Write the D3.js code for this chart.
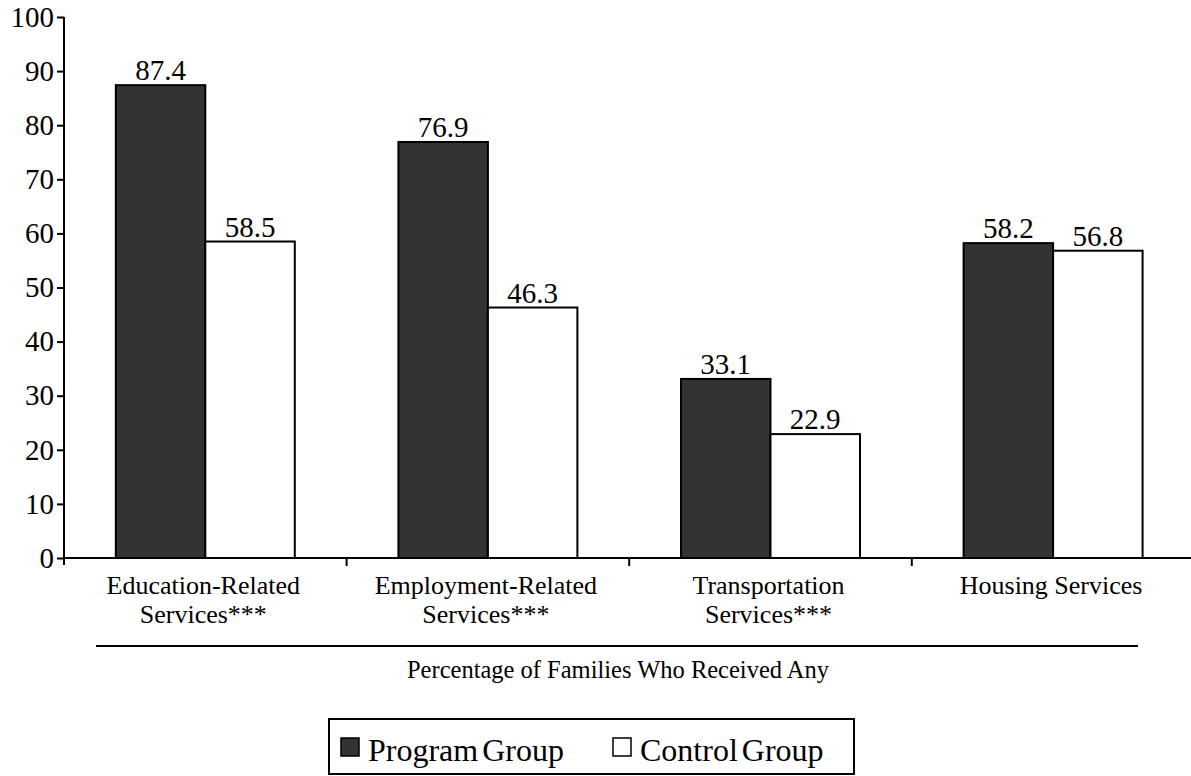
<!DOCTYPE html>
<html>
<head>
<meta charset="utf-8">
<script src="https://cdn.jsdelivr.net/npm/d3@7"></script>
<style>
  html, body { margin: 0; padding: 0; background: #fff; }
  svg { display: block; font-family: "Liberation Serif", "Times New Roman", serif; }
</style>
</head>
<body>
<svg id="chart" width="1191" height="776"></svg>
<script>
const categories = [
  ["Education-Related", "Services***"],
  ["Employment-Related", "Services***"],
  ["Transportation", "Services***"],
  ["Housing Services"]
];
const categoryKeys = ["Education", "Employment", "Transportation", "Housing"];
const seriesNames = ["Program Group", "Control Group"];
const programValues = [87.4, 76.9, 33.1, 58.2];
const controlValues = [58.5, 46.3, 22.9, 56.8];
const yTicks = [0, 10, 20, 30, 40, 50, 60, 70, 80, 90, 100];
const axisTitle = "Percentage of Families Who Received Any";
const seriesColors = ["#333333", "#ffffff"];

const svg = d3.select("#chart");

const x0 = d3.scaleBand().domain(categoryKeys).range([64, 1194.4]).paddingInner(0).paddingOuter(0);
const x1 = d3.scaleBand().domain(seriesNames).range([0, x0.bandwidth()]).paddingInner(0).paddingOuter(0.579);
const y = d3.scaleLinear().domain([0, 100]).range([558, 17]);

const data = categoryKeys.map((k, i) => ({ key: k, values: [programValues[i], controlValues[i]] }));

// bars
const groups = svg.append("g").selectAll("g").data(data).join("g")
  .attr("transform", d => `translate(${x0(d.key)},0)`);

groups.selectAll("rect").data(d => d.values.map((v, j) => ({ s: seriesNames[j], v, j })))
  .join("rect")
  .attr("x", d => x1(d.s))
  .attr("y", d => y(d.v))
  .attr("width", x1.bandwidth())
  .attr("height", d => y(0) - y(d.v))
  .attr("fill", d => seriesColors[d.j])
  .attr("stroke", "#000")
  .attr("stroke-width", 2);

groups.selectAll("text.val").data(d => d.values.map((v, j) => ({ s: seriesNames[j], v, j })))
  .join("text")
  .attr("class", "val")
  .attr("x", d => x1(d.s) + x1.bandwidth() / 2)
  .attr("y", d => y(d.v) - 5)
  .attr("text-anchor", "middle")
  .attr("font-size", 29)
  .attr("fill", "#000")
  .text(d => d.v.toFixed(1));

// y axis
const yAxis = svg.append("g")
  .attr("transform", "translate(64,0)")
  .call(d3.axisLeft(y).tickValues(yTicks).tickSize(7).tickPadding(3).tickSizeOuter(0));
yAxis.attr("font-family", null);
yAxis.select(".domain").remove();
yAxis.selectAll(".tick line").attr("stroke", "#000").attr("stroke-width", 2);
yAxis.selectAll(".tick text").attr("font-size", 29).attr("font-family", "Liberation Serif").attr("fill", "#000");
svg.append("line")
  .attr("x1", 64).attr("x2", 64)
  .attr("y1", y(100)).attr("y2", y(0) + 7)
  .attr("stroke", "#000").attr("stroke-width", 2);

// x axis line
svg.append("line")
  .attr("x1", 64).attr("x2", x0.range()[1])
  .attr("y1", y(0)).attr("y2", y(0))
  .attr("stroke", "#000").attr("stroke-width", 2);
svg.append("g").selectAll("line").data(categoryKeys.slice(1)).join("line")
  .attr("x1", d => x0(d)).attr("x2", d => x0(d))
  .attr("y1", y(0)).attr("y2", y(0) + 8)
  .attr("stroke", "#000").attr("stroke-width", 2);

// category labels
const catLabels = svg.append("g").selectAll("text").data(categoryKeys).join("text")
  .attr("x", d => x0(d) + x0.bandwidth() / 2 - 2)
  .attr("y", 594)
  .attr("text-anchor", "middle")
  .attr("font-size", 26)
  .attr("fill", "#000");
catLabels.each(function (d, i) {
  d3.select(this).selectAll("tspan").data(categories[i]).join("tspan")
    .attr("x", x0(d) + x0.bandwidth() / 2 - 2)
    .attr("dy", (t, j) => j === 0 ? 0 : 29)
    .text(t => t);
});

// separator line and axis title
svg.append("line")
  .attr("x1", 96).attr("x2", 1138)
  .attr("y1", 646).attr("y2", 646)
  .attr("stroke", "#000").attr("stroke-width", 2);
svg.append("text")
  .attr("x", 618).attr("y", 678)
  .attr("text-anchor", "middle")
  .attr("font-size", 24.5)
  .attr("fill", "#000")
  .text(axisTitle);

// legend
const legend = svg.append("g");
legend.append("rect")
  .attr("x", 329).attr("y", 719).attr("width", 525).attr("height", 55)
  .attr("fill", "#fff").attr("stroke", "#000").attr("stroke-width", 2);
const legendX = [341, 613];
const legendItems = legend.selectAll("g.item").data(seriesNames).join("g")
  .attr("class", "item")
  .attr("transform", (d, i) => `translate(${legendX[i]},0)`);
legendItems.append("rect")
  .attr("x", 0).attr("y", 738).attr("width", 18).attr("height", 18)
  .attr("fill", (d, i) => seriesColors[i])
  .attr("stroke", "#000").attr("stroke-width", 1.5);
legendItems.append("text")
  .attr("x", 27).attr("y", 761)
  .attr("font-size", 32)
  .attr("fill", "#000")
  .style("word-spacing", "-4px")
  .text(d => d);
</script>
</body>
</html>
